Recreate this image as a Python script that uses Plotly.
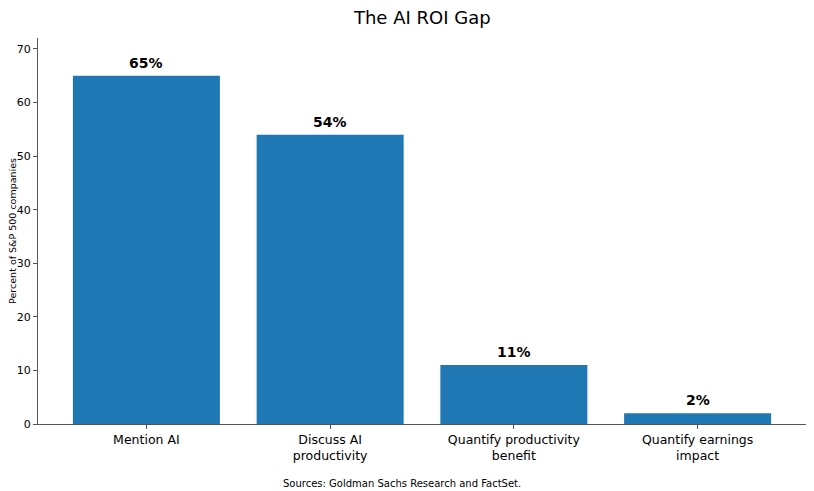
import plotly.graph_objects as go

categories = ["Mention AI", "Discuss AI<br>productivity", "Quantify productivity<br>benefit", "Quantify earnings<br>impact"]
values = [65, 54, 11, 2]
labels = ["65%", "54%", "11%", "2%"]

positions = list(range(len(values)))

fig = go.Figure(
    go.Bar(
        x=positions,
        y=values,
        width=0.8,
        marker=dict(color="#1f77b4", line=dict(width=0)),
    )
)

# value labels above each bar
notes = []
for xi, v, lab in zip(positions, values, labels):
    notes.append(dict(x=xi, y=v, text=lab, xref="x", yref="y", showarrow=False,
                      yanchor="bottom", yshift=3,
                      font=dict(size=14, color="black", weight="bold")))

notes.append(dict(text="Sources: Goldman Sachs Research and FactSet.", xref="paper", yref="paper",
                  x=0.474, y=-0.153, xanchor="center", yanchor="middle", showarrow=False,
                  font=dict(size=10)))
notes.append(dict(text="Percent of S&P 500 companies", xref="paper", yref="paper",
                  x=-0.034, y=0.5, xanchor="center", yanchor="middle", showarrow=False,
                  textangle=-90, font=dict(size=9.5)))

# page body has an 8px margin, so the figure is sized/offset to land the axes where the reference has them
fig.update_layout(
    width=806,
    height=483,
    margin=dict(l=30, r=8, t=30, b=67, autoexpand=False),
    plot_bgcolor="white",
    paper_bgcolor="white",
    font=dict(family="DejaVu Sans", color="black"),
    title=dict(text="The AI ROI Gap", x=0.514, xanchor="center", y=1, yref="container",
               yanchor="top", pad=dict(t=3), font=dict(size=18)),
    showlegend=False,
    annotations=notes,
)

fig.update_xaxes(
    range=[-0.59, 3.59],
    tickmode="array",
    tickvals=positions,
    ticktext=categories,
    ticks="outside", ticklen=4, tickcolor="#555",
    showline=True, linecolor="#555", linewidth=1,
    showgrid=False, zeroline=False,
    tickfont=dict(size=12.5),
)
fig.update_yaxes(
    range=[0, 72.05],
    tickvals=[0, 10, 20, 30, 40, 50, 60, 70],
    ticks="outside", ticklen=4, tickcolor="#555",
    showline=True, linecolor="#555", linewidth=1,
    showgrid=False, zeroline=False,
    tickfont=dict(size=11),
)

fig.write_html("out.html")
